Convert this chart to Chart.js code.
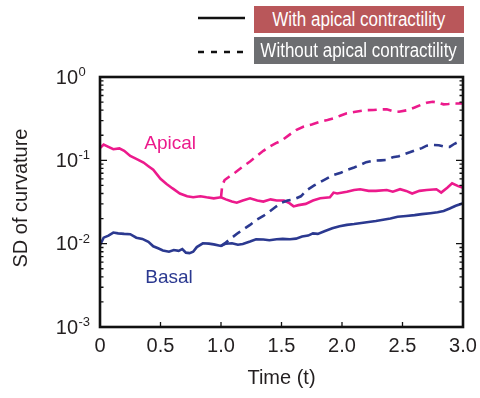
<!DOCTYPE html>
<html>
<head>
<meta charset="utf-8">
<script src="https://cdn.jsdelivr.net/npm/chart.js@4.4.1/dist/chart.umd.min.js"></script>
<style>
  html, body { margin: 0; padding: 0; background: #fff; }
  #wrap { position: relative; width: 480px; height: 398px; font-family: "Liberation Sans", Arial, sans-serif; }
  #plot { position: absolute; left: 0; top: 0; }
  .key { position: absolute; left: 254px; width: 210px; height: 27px; color: #fff;
         font-size: 20px; line-height: 27px; white-space: nowrap;
         display: flex; justify-content: center; }
  .key span { display: inline-block; flex: none; transform: scaleX(0.85); }
  .swatch { position: absolute; left: 198px; }
</style>
</head>
<body>
<div id="wrap">
  <canvas id="plot" width="480" height="398"></canvas>
  <svg class="swatch" style="top:12px" width="48" height="12"><line x1="0" y1="6" x2="47" y2="6" stroke="#111" stroke-width="2.6"/></svg>
  <div class="key" style="top:6px; background:#b9575a;"><span>With apical contractility</span></div>
  <svg class="swatch" style="top:46px" width="48" height="12"><line x1="0" y1="6" x2="47" y2="6" stroke="#111" stroke-width="2.6" stroke-dasharray="6 7"/></svg>
  <div class="key" style="top:37px; background:#6d6e71;"><span>Without apical contractility</span></div>
</div>
<script>
// time axis (t) and SD of curvature for each curve
const apicalTime = [0, 0.03, 0.07, 0.11, 0.16, 0.2, 0.25, 0.3, 0.36, 0.4, 0.44, 0.5, 0.55, 0.6, 0.66, 0.72, 0.77, 0.83, 0.88, 0.94, 1.0, 1.04, 1.09, 1.13, 1.18, 1.24, 1.3, 1.35, 1.41, 1.46, 1.52, 1.56, 1.6, 1.64, 1.7, 1.76, 1.82, 1.9, 1.93, 1.96, 2.04, 2.1, 2.15, 2.22, 2.28, 2.37, 2.42, 2.48, 2.53, 2.58, 2.64, 2.7, 2.78, 2.82, 2.87, 2.91, 2.96, 3.0];
const apicalWith = [0.14, 0.155, 0.145, 0.136, 0.139, 0.13, 0.113, 0.104, 0.094, 0.085, 0.077, 0.06, 0.052, 0.046, 0.04, 0.037, 0.036, 0.037, 0.036, 0.035, 0.036, 0.034, 0.032, 0.031, 0.033, 0.035, 0.033, 0.032, 0.034, 0.033, 0.033, 0.031, 0.028, 0.029, 0.03, 0.033, 0.035, 0.036, 0.041, 0.04, 0.042, 0.044, 0.045, 0.043, 0.043, 0.044, 0.042, 0.045, 0.043, 0.04, 0.043, 0.044, 0.045, 0.041, 0.047, 0.053, 0.049, 0.047];

const apicalNoTime = [1.0, 1.01, 1.03, 1.07, 1.12, 1.18, 1.24, 1.29, 1.35, 1.4, 1.45, 1.5, 1.57, 1.62, 1.68, 1.75, 1.82, 1.88, 1.93, 1.99, 2.04, 2.1, 2.15, 2.2, 2.26, 2.32, 2.37, 2.42, 2.47, 2.54, 2.6, 2.65, 2.7, 2.75, 2.8, 2.84, 2.88, 2.92, 2.96, 3.0];
const apicalWithout = [0.036, 0.05, 0.058, 0.064, 0.072, 0.084, 0.097, 0.111, 0.13, 0.146, 0.16, 0.172, 0.205, 0.23, 0.253, 0.27, 0.291, 0.305, 0.319, 0.345, 0.367, 0.38, 0.391, 0.4, 0.402, 0.408, 0.41, 0.39, 0.383, 0.4, 0.43, 0.461, 0.49, 0.505, 0.49, 0.47, 0.475, 0.483, 0.48, 0.483];

const basalTime = [0, 0.03, 0.07, 0.11, 0.15, 0.2, 0.25, 0.3, 0.35, 0.4, 0.44, 0.48, 0.52, 0.57, 0.61, 0.65, 0.68, 0.71, 0.74, 0.77, 0.8, 0.85, 0.9, 0.94, 1.0, 1.04, 1.09, 1.14, 1.18, 1.24, 1.29, 1.35, 1.4, 1.46, 1.51, 1.57, 1.62, 1.67, 1.72, 1.76, 1.8, 1.86, 1.92, 1.98, 2.04, 2.1, 2.16, 2.22, 2.28, 2.34, 2.4, 2.46, 2.53, 2.6, 2.66, 2.73, 2.79, 2.84, 2.89, 2.94, 3.0];
const basalWith = [0.0096, 0.0118, 0.0125, 0.0136, 0.0133, 0.0131, 0.013, 0.0118, 0.0114, 0.0105, 0.0093, 0.0088, 0.0083, 0.008, 0.0084, 0.0082, 0.0086, 0.0078, 0.0077, 0.008, 0.0091, 0.0101, 0.01, 0.0098, 0.0094, 0.01, 0.0101, 0.0097, 0.0099, 0.0106, 0.0113, 0.0112, 0.011, 0.0113, 0.0114, 0.0113, 0.0115, 0.0122, 0.0125, 0.0133, 0.0131, 0.0142, 0.0153, 0.0162, 0.0168, 0.0172, 0.0177, 0.0182, 0.0187, 0.0194, 0.02, 0.021, 0.0215, 0.022, 0.0226, 0.0232, 0.0238, 0.0247, 0.0264, 0.0285, 0.0305];

const basalNoTime = [1.0, 1.04, 1.09, 1.14, 1.19, 1.24, 1.29, 1.35, 1.4, 1.45, 1.5, 1.55, 1.6, 1.66, 1.71, 1.77, 1.85, 1.93, 1.99, 2.04, 2.1, 2.15, 2.2, 2.26, 2.32, 2.37, 2.42, 2.47, 2.51, 2.56, 2.61, 2.66, 2.7, 2.75, 2.8, 2.85, 2.89, 2.93, 2.97, 3.0];
const basalWithout = [0.0094, 0.0103, 0.0118, 0.0134, 0.015, 0.0168, 0.0192, 0.0215, 0.0242, 0.0275, 0.031, 0.033, 0.034, 0.037, 0.044, 0.05, 0.058, 0.0667, 0.071, 0.0766, 0.082, 0.0879, 0.095, 0.099, 0.1, 0.101, 0.109, 0.112, 0.118, 0.125, 0.133, 0.14, 0.15, 0.153, 0.152, 0.146, 0.145, 0.158, 0.168, 0.179];

const xTicks = [0, 0.5, 1.0, 1.5, 2.0, 2.5, 3.0];
const xTickLabels = ["0", "0.5", "1.0", "1.5", "2.0", "2.5", "3.0"];
const yExponents = [-3, -2, -1, 0];

const PINK = "#ec1a8c";
const BLUE = "#2b3990";
const INK = "#231f20";
const FONT = '"Liberation Sans", Arial, sans-serif';

const pairs = (xs, ys) => xs.map((x, i) => ({ x, y: ys[i] }));

function line(data, color, dashed) {
    return {
        data,
        borderColor: color,
        borderWidth: 2.6,
        borderDash: dashed ? [9, 6] : [],
        pointRadius: 0,
        tension: 0,
        fill: false,
    };
}

// frame, inward ticks, tick labels, axis titles and curve labels
const axesPlugin = {
    id: "axesPlugin",
    afterDraw(chart) {
        const { ctx, chartArea: a, scales } = chart;
        const xs = scales.x, ys = scales.y;
        ctx.save();
        ctx.strokeStyle = "#111";
        ctx.fillStyle = INK;

        // ticks on left/right (log) and bottom
        ctx.lineWidth = 1.3;
        ctx.beginPath();
        for (let d = -3; d <= 0; d++) {
            for (let m = 1; m <= 9; m++) {
                const v = m * Math.pow(10, d);
                if (v > 1) break;
                const py = ys.getPixelForValue(v);
                const len = m === 1 ? 7 : 3.5;
                ctx.moveTo(a.left, py); ctx.lineTo(a.left + len, py);
                ctx.moveTo(a.right, py); ctx.lineTo(a.right - len, py);
            }
        }
        xTicks.forEach(t => {
            const px = xs.getPixelForValue(t);
            ctx.moveTo(px, a.bottom); ctx.lineTo(px, a.bottom - 5);
        });
        ctx.stroke();

        ctx.lineWidth = 2.6;
        ctx.strokeRect(a.left, a.top, a.right - a.left, a.bottom - a.top);

        // x tick labels
        ctx.font = "20px " + FONT;
        ctx.textAlign = "center";
        ctx.textBaseline = "middle";
        xTicks.forEach((t, i) => {
            ctx.fillText(xTickLabels[i], xs.getPixelForValue(t), 346);
        });
        ctx.fillText("Time (t)", (a.left + a.right) / 2, 378);

        // y tick labels as 10 with superscript exponent
        yExponents.forEach(e => {
            const py = ys.getPixelForValue(Math.pow(10, e));
            ctx.font = "20px " + FONT;
            ctx.textAlign = "right";
            ctx.textBaseline = "middle";
            ctx.fillText("10", 78, py + 1);
            ctx.font = "13px " + FONT;
            ctx.textAlign = "left";
            ctx.textBaseline = "alphabetic";
            ctx.fillText(String(e), 78.5, py - 1);
        });

        ctx.save();
        ctx.translate(21, (a.top + a.bottom) / 2 - 4);
        ctx.rotate(-Math.PI / 2);
        ctx.font = "20px " + FONT;
        ctx.textAlign = "center";
        ctx.textBaseline = "middle";
        ctx.fillText("SD of curvature", 0, 0);
        ctx.restore();

        // curve names
        ctx.font = "19px " + FONT;
        ctx.textAlign = "center";
        ctx.textBaseline = "middle";
        ctx.fillStyle = PINK;
        ctx.fillText("Apical", xs.getPixelForValue(0.58), ys.getPixelForValue(0.16));
        ctx.fillStyle = BLUE;
        ctx.fillText("Basal", xs.getPixelForValue(0.57), ys.getPixelForValue(0.0039));
        ctx.restore();
    },
};

new Chart(document.getElementById("plot"), {
    type: "line",
    data: {
        datasets: [
            line(pairs(apicalNoTime, apicalWithout), PINK, true),
            line(pairs(basalNoTime, basalWithout), BLUE, true),
            line(pairs(apicalTime, apicalWith), PINK, false),
            line(pairs(basalTime, basalWith), BLUE, false),
        ],
    },
    options: {
        responsive: false,
        animation: false,
        layout: { padding: { left: 100, right: 17, top: 77, bottom: 71 } },
        scales: {
            x: { type: "linear", min: 0, max: 3, display: false },
            y: { type: "logarithmic", min: 0.001, max: 1, display: false },
        },
        plugins: { legend: { display: false }, tooltip: { enabled: false } },
    },
    plugins: [axesPlugin],
});
</script>
</body>
</html>
